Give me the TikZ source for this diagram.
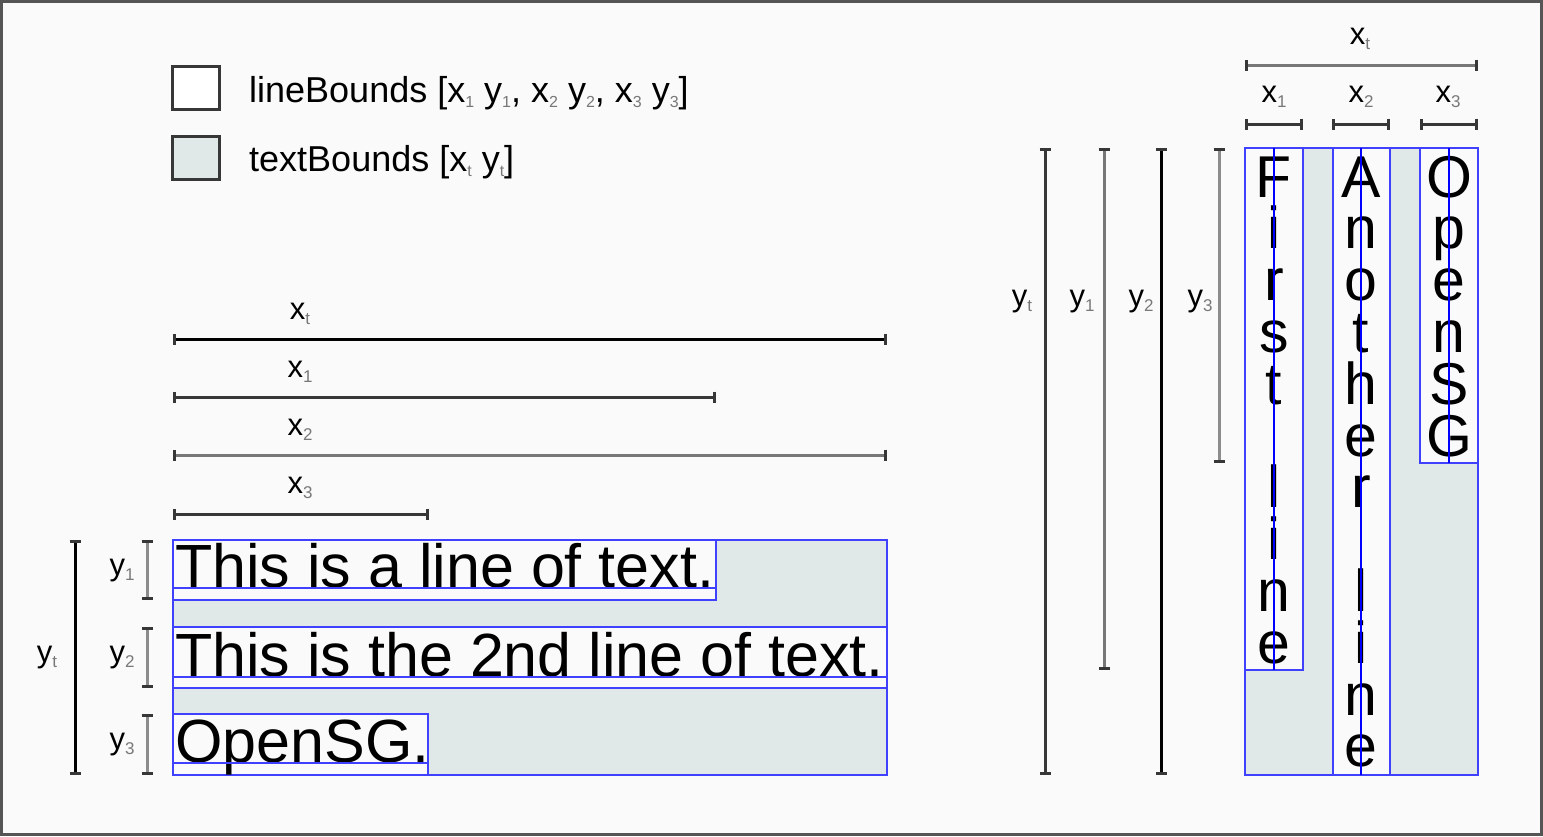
\documentclass[tikz,border=0pt]{standalone}
\usepackage{fontspec}
\setmainfont{Liberation Sans}
\usetikzlibrary{arrows.meta}
\definecolor{bgc}{RGB}{250,250,250}
\definecolor{framec}{RGB}{85,85,85}
\definecolor{tbc}{RGB}{225,232,232}
\definecolor{bbc}{RGB}{64,64,255}
\definecolor{clc}{RGB}{0,0,255}
\definecolor{subg}{RGB}{120,120,120}
\definecolor{ga}{RGB}{55,55,55}
\definecolor{gb}{RGB}{119,119,119}
\definecolor{gc}{RGB}{140,140,140}
\newcommand{\sbs}[1]{\raisebox{-5pt}{\textcolor{subg}{\fontsize{16}{16}\selectfont #1}}}
\newcommand{\lsb}[1]{\raisebox{-5pt}{\textcolor{subg}{\fontsize{17}{17}\selectfont #1}}}
\begin{document}
\begin{tikzpicture}[x=1pt,y=-1pt,
  bigtxt/.style={inner sep=0pt, font=\fontsize{61}{61}\selectfont},
  vtxt/.style={inner sep=0pt, anchor=base, text height=42pt, text depth=0pt, font=\fontsize{59}{59}\selectfont},
  legtxt/.style={inner sep=0pt, anchor=base west, font=\fontsize{36}{36}\selectfont},
  dlab/.style={inner sep=0pt, font=\fontsize{31}{31}\selectfont},
  boxline/.style={draw=bbc, line width=2.8pt},
  baseln/.style={draw=bbc, line width=2.4pt},
  cline/.style={draw=clc, line width=2pt},
  dimline/.style={line width=3pt, {Bar[width=11pt,line width=3pt,color=ga]}-{Bar[width=11pt,line width=3pt,color=ga]}},
  legbox/.style={draw=ga, line width=3pt}
]
\useasboundingbox (0,0) rectangle (1543,836);
\filldraw[fill=bgc, draw=framec, line width=3pt] (1.5,1.5) rectangle (1541.5,834.5);

% ---------- legend ----------
\draw[legbox, fill=white] (172,66) rectangle (219,109);
\draw[legbox, fill=tbc] (172,136) rectangle (219,179);
\node[legtxt] (leg1) at (249,102) {lineBounds [x\sbs{1} y\sbs{1}, x\sbs{2} y\sbs{2}, x\sbs{3} y\sbs{3}]};
\node[legtxt] (leg2) at (249,171) {textBounds [x\sbs{t} y\sbs{t}]};

% ---------- left: horizontal text ----------
\filldraw[fill=tbc, boxline] (173,540) rectangle (887,775);
\filldraw[fill=bgc, boxline] (173,540) rectangle (716,600);
\filldraw[fill=bgc, boxline] (173,627) rectangle (887,688);
\filldraw[fill=bgc, boxline] (173,714) rectangle (428,775);
\node[bigtxt, anchor=base west] (l1) at (175,587) {This is a line of text.};
\node[bigtxt, anchor=base west] (l2) at (175,676) {This is the 2nd line of text.};
\node[bigtxt, anchor=base west] (l3) at (175,762) {OpenSG.};
\draw[baseln] (173,588) -- (716,588);
\draw[baseln] (173,677) -- (887,677);
\draw[baseln] (173,763) -- (428,763);

% horizontal dimensions (left)
\coordinate (hxt0) at (173,339); \coordinate (hxt1) at (887,339);
\coordinate (hx10) at (173,397); \coordinate (hx11) at (716,397);
\coordinate (hx20) at (173,455); \coordinate (hx21) at (887,455);
\coordinate (hx30) at (173,514); \coordinate (hx31) at (429,514);
\draw[dimline, black] (hxt0) -- (hxt1);
\draw[dimline, ga] (hx10) -- (hx11);
\draw[dimline, gb] (hx20) -- (hx21);
\draw[dimline, ga] (hx30) -- (hx31);
\node[dlab] (lxt) at (300,314) {x\lsb{t}};
\node[dlab] (lx1) at (300,372) {x\lsb{1}};
\node[dlab] (lx2) at (300,430) {x\lsb{2}};
\node[dlab] (lx3) at (300,488) {x\lsb{3}};

% vertical dimensions (left)
\coordinate (vyt0) at (75,540); \coordinate (vyt1) at (75,775);
\coordinate (vy10) at (147,540); \coordinate (vy11) at (147,600);
\coordinate (vy20) at (147,627); \coordinate (vy21) at (147,688);
\coordinate (vy30) at (147,714); \coordinate (vy31) at (147,775);
\draw[dimline, black] (vyt0) -- (vyt1);
\draw[dimline, gc] (vy10) -- (vy11);
\draw[dimline, gc] (vy20) -- (vy21);
\draw[dimline, gc] (vy30) -- (vy31);
\node[dlab] (lyt) at (47,658) {y\lsb{t}};
\node[dlab] (ly1) at (122,571) {y\lsb{1}};
\node[dlab] (ly2) at (122,658) {y\lsb{2}};
\node[dlab] (ly3) at (122,745) {y\lsb{3}};

% ---------- right: vertical text ----------
\filldraw[fill=tbc, boxline] (1245,148) rectangle (1478,775);
\filldraw[fill=bgc, boxline] (1245,148) rectangle (1303,670);
\filldraw[fill=bgc, boxline] (1333,148) rectangle (1390,775);
\filldraw[fill=bgc, boxline] (1420,148) rectangle (1478,463);
\foreach \ch [count=\i from 0] in {F,i,r,s,t,{},l,i,n,e}
  \node[vtxt] (ca\i) at (1274,197+51.8*\i) {\ch};
\foreach \ch [count=\i from 0] in {A,n,o,t,h,e,r,{},l,i,n,e}
  \node[vtxt] (cb\i) at (1361,197+51.8*\i) {\ch};
\foreach \ch [count=\i from 0] in {O,p,e,n,S,G}
  \node[vtxt] (cc\i) at (1449,197+51.8*\i) {\ch};
\draw[cline] (1274,148) -- (1274,670);
\draw[cline] (1361,148) -- (1361,775);
\draw[cline] (1449,148) -- (1449,463);

% horizontal dimensions (right)
\coordinate (rxt0) at (1245,65); \coordinate (rxt1) at (1478,65);
\coordinate (rx10) at (1245,124); \coordinate (rx11) at (1303,124);
\coordinate (rx20) at (1332,124); \coordinate (rx21) at (1390,124);
\coordinate (rx30) at (1420,124); \coordinate (rx31) at (1478,124);
\draw[dimline, gb] (rxt0) -- (rxt1);
\draw[dimline, ga] (rx10) -- (rx11);
\draw[dimline, ga] (rx20) -- (rx21);
\draw[dimline, ga] (rx30) -- (rx31);
\node[dlab] (rlxt) at (1360,39) {x\lsb{t}};
\node[dlab] (rlx1) at (1274,97) {x\lsb{1}};
\node[dlab] (rlx2) at (1361,97) {x\lsb{2}};
\node[dlab] (rlx3) at (1448,97) {x\lsb{3}};

% vertical dimensions (right)
\coordinate (ryt0) at (1045,148); \coordinate (ryt1) at (1045,775);
\coordinate (ry10) at (1104,148); \coordinate (ry11) at (1104,670);
\coordinate (ry20) at (1161,148); \coordinate (ry21) at (1161,775);
\coordinate (ry30) at (1219,148); \coordinate (ry31) at (1219,463);
\draw[dimline, ga] (ryt0) -- (ryt1);
\draw[dimline, gb] (ry10) -- (ry11);
\draw[dimline, black] (ry20) -- (ry21);
\draw[dimline, gc] (ry30) -- (ry31);
\node[dlab] (rlyt) at (1022,302) {y\lsb{t}};
\node[dlab] (rly1) at (1082,302) {y\lsb{1}};
\node[dlab] (rly2) at (1141,302) {y\lsb{2}};
\node[dlab] (rly3) at (1200,302) {y\lsb{3}};
\end{tikzpicture}
\end{document}
